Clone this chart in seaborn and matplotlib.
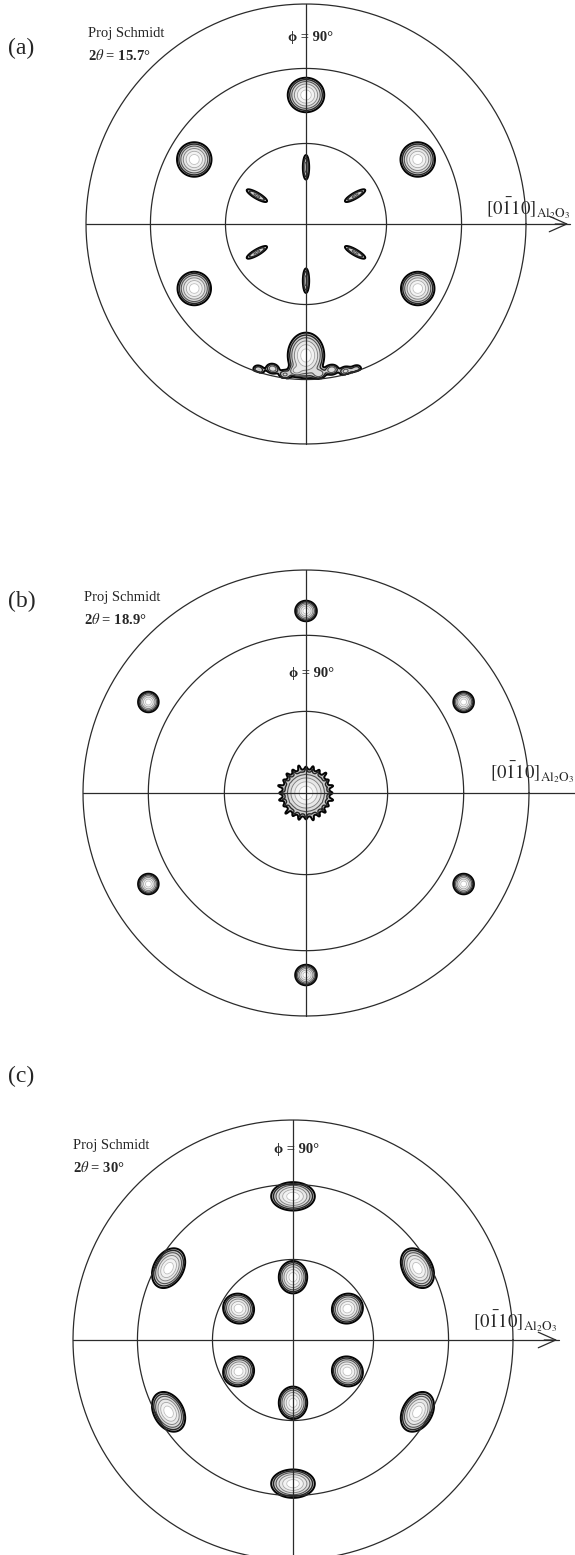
import numpy as np
import matplotlib
matplotlib.use("Agg")
import matplotlib.pyplot as plt
import seaborn as sns

# ---- data ----
tags = ['(a)', '(b)', '(c)']
two_theta = ['15.7°', '18.9°', '30°']
ring_psi = [30, 60, 90]          # Schmidt net circles (tilt angle, deg)

# poles: tilt psi (deg), azimuth phi (deg), radial / tangential width, intensity
a_psi = [49, 49, 49, 49, 49, 50, 21, 21, 21, 21, 21, 21]
a_phi = [30, 90, 150, 210, 330, 270, 30, 90, 150, 210, 270, 330]
a_sr = [0.034, 0.034, 0.034, 0.033, 0.033, 0.045, 0.035, 0.035, 0.035, 0.035, 0.035, 0.035]
a_st = [0.034, 0.036, 0.034, 0.033, 0.033, 0.036, 0.009, 0.009, 0.009, 0.009, 0.009, 0.009]
a_amp = [1, 1, 1, 1, 1, 1, 0.22, 0.25, 0.22, 0.22, 0.25, 0.22]
# noisy fringe on the psi = 60 edge under the bottom pole
fr_psi = [59.0, 57.0, 58.5, 56.5, 57.8, 56.8, 58.6, 59.2]
fr_phi = [252, 257, 262, 266, 275, 280, 285, 289]
fr_amp = [0.2, 0.3, 0.22, 0.32, 0.28, 0.32, 0.24, 0.18]

b_psi = [70.5, 70.5, 70.5, 70.5, 70.5, 70.5, 0]
b_phi = [30, 90, 150, 210, 270, 330, 0]
b_sr = [0.02, 0.02, 0.02, 0.02, 0.02, 0.02, 0.046]
b_st = [0.02, 0.021, 0.02, 0.02, 0.021, 0.02, 0.046]
b_amp = [1, 1, 1, 1, 1, 1, 1]
# spiky rim of the central pole in (b)
rim_psi = [8.6, 9.4, 8.4, 9.7, 8.7, 9.2, 8.5, 9.6, 8.8, 9.1, 8.4, 9.8,
           8.7, 9.3, 8.3, 9.9, 8.6, 9.2, 8.5, 9.5, 8.9, 9.2, 8.4, 9.4]
rim_phi = [0, 15, 30, 45, 60, 75, 90, 105, 120, 135, 150, 165,
           180, 195, 210, 225, 240, 255, 270, 285, 300, 315, 330, 345]

c_psi = [55, 55, 55, 55, 55, 55, 23.3, 23.3, 23.3, 23.3, 23.3, 23.3]
c_phi = [30, 90, 150, 210, 270, 330, 30, 90, 150, 210, 270, 330]
c_sr = [0.029, 0.028, 0.029, 0.029, 0.028, 0.029, 0.031, 0.032, 0.031, 0.031, 0.032, 0.031]
c_st = [0.042, 0.043, 0.042, 0.042, 0.043, 0.042, 0.029, 0.028, 0.029, 0.029, 0.028, 0.029]
c_amp = [1, 1, 1, 1, 1, 1, 1, 1, 1, 1, 1, 1]

W, H = 575, 1555
sns.set_theme(style="white")
plt.rcParams['font.family'] = ['Liberation Serif', 'DejaVu Serif']
plt.rcParams['mathtext.fontset'] = 'stix'

fig = plt.figure(figsize=(W / 100, H / 100), dpi=100)
line_col = '#2b2b2b'


def schmidt(psi):
    return np.sin(np.radians(psi) / 2) / np.sin(np.radians(45))


def density(psi, phi, sr, st, amp, X, Y):
    Z = np.zeros_like(X)
    for ps, ph, s1, s2, A in zip(psi, phi, sr, st, amp):
        r0, p = schmidt(ps), np.radians(ph)
        dx, dy = X - r0 * np.cos(p), Y - r0 * np.sin(p)
        dr = dx * np.cos(p) + dy * np.sin(p)
        dt = -dx * np.sin(p) + dy * np.cos(p)
        Z += A * np.exp(-0.5 * ((dr / s1) ** 2 + (dt / s2) ** 2))
    return Z


def panel(cx, cy, R, tip, Z, X, Y, labels):
    half = 290
    ax = fig.add_axes([0, 1 - (cy + half) / H, 1, 2 * half / H])
    ax.set_xlim(-cx / R, (W - cx) / R)
    ax.set_ylim(-half / R, half / R)
    ax.axis('off')
    ax.patch.set_alpha(0)

    def d(px, py):
        return (px - cx) / R, (cy - py) / R

    levels = [0.07, 0.12, 0.2, 0.34, 0.55, 0.8]
    fills = ['#c2c2c2', '#cfcfcf', '#dcdcdc', '#e8e8e8', '#f3f3f3', '#ffffff']
    ax.contourf(X, Y, Z, levels=levels + [10], colors=fills, zorder=1)
    ax.contour(X, Y, Z, levels=levels,
               colors=['#050505', '#262626', '#555555', '#828282', '#a5a5a5', '#bdbdbd'],
               linewidths=[1.4, 1.0, 0.8, 0.7, 0.6, 0.6], zorder=2)

    t = np.linspace(0, 2 * np.pi, 500)
    for psi in ring_psi:
        r = schmidt(psi)
        sns.lineplot(x=r * np.cos(t), y=r * np.sin(t), sort=False, estimator=None,
                     color=line_col, lw=0.9, ax=ax, zorder=4)
    sns.lineplot(x=[0, 0], y=[-1, 1], sort=False, estimator=None, color=line_col, lw=0.9,
                 ax=ax, zorder=4)
    tx = (tip - cx) / R
    sns.lineplot(x=[-1, tx], y=[0, 0], sort=False, estimator=None, color=line_col, lw=0.9,
                 ax=ax, zorder=4)
    ax.annotate('', xy=(tx + 0.005, 0), xytext=(tx - 0.08, 0),
                arrowprops=dict(arrowstyle='->,head_length=0.9,head_width=0.4',
                                lw=0.9, color=line_col, mutation_scale=14))

    tag, tag_y, ps_x, ps_y, th, phi_x, phi_y, lab_x, lab_y = labels
    ax.text(*d(8, tag_y), tag, fontsize=17, ha='left', va='center', clip_on=False)
    ax.text(*d(ps_x, ps_y), 'Proj Schmidt', fontsize=10.5, ha='left', va='center', clip_on=False)
    ax.text(*d(ps_x, ps_y + 22), r'2$\theta$ = ' + th, fontsize=10.5, ha='left', va='center',
            fontweight='bold', clip_on=False)
    ax.text(*d(phi_x, phi_y), 'ϕ = 90°', fontsize=10.5, ha='center', va='center',
            fontweight='bold', clip_on=False, zorder=5)
    ax.text(*d(lab_x, lab_y), r'$[0\bar{1}10]_{\mathrm{Al_2O_3}}$', fontsize=13.5,
            ha='left', va='center', clip_on=False)
    return ax


g = np.linspace(-1.05, 1.05, 700)
X, Y = np.meshgrid(g, g)

Za = density(a_psi, a_phi, a_sr, a_st, a_amp, X, Y)
Za += density(fr_psi, fr_phi, [0.013] * 8, [0.017] * 8, fr_amp, X, Y)
Za[np.hypot(X, Y) > schmidt(60)] = 0
Zb = density(b_psi, b_phi, b_sr, b_st, b_amp, X, Y)
Zb += density(rim_psi, rim_phi, [0.011] * 24, [0.004] * 24, [0.07] * 24, X, Y)
Zc = density(c_psi, c_phi, c_sr, c_st, c_amp, X, Y)

panel(306, 224, 220, 570, Za, X, Y, ('(a)', 48, 88, 33, two_theta[0], 311, 38, 486, 208))
panel(306, 793, 223, 577, Zb, X, Y, ('(b)', 601, 84, 597, two_theta[1], 312, 673, 490, 772))
panel(293, 1340, 220, 559, Zc, X, Y, ('(c)', 1076, 73, 1146, two_theta[2], 297, 1150, 473, 1321))

fig.savefig('out.png', dpi=100, facecolor='white')
